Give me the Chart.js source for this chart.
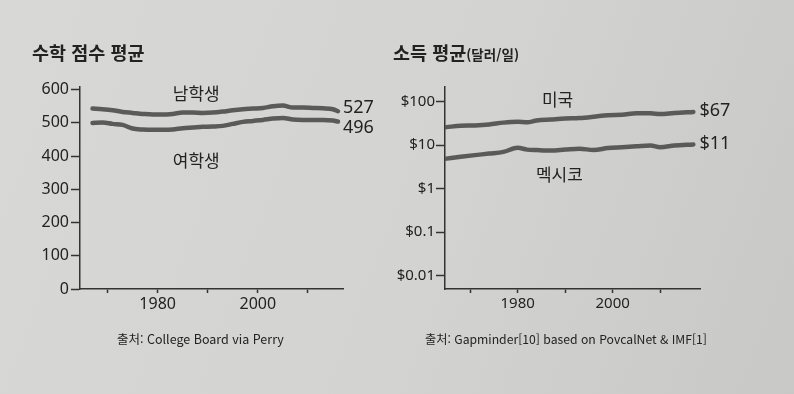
<!DOCTYPE html>
<html lang="ko">
<head>
<meta charset="utf-8">
<script src="https://cdn.jsdelivr.net/npm/chart.js@4.4.1/dist/chart.umd.min.js"></script>
<style>
  html, body { margin: 0; padding: 0; }
  body {
    width: 794px; height: 394px; overflow: hidden; position: relative;
    background: linear-gradient(110deg, #d8d8d6 0%, #d3d3d1 55%, #c8c8c6 100%);
    font-family: "Noto Sans CJK KR", "Noto Sans", sans-serif; color: #222;
  }
  .panel { position: absolute; top: 0; width: 397px; height: 394px; }
  .panel canvas { position: absolute; left: 0; top: 0; }
  .title { position: absolute; top: 41px; font-size: 18.5px; line-height: 22px; font-weight: bold; white-space: nowrap; }
  .title small { font-size: 13.5px; font-weight: bold; }
  .source { position: absolute; top: 331px; font-size: 12.5px; line-height: 16px; white-space: nowrap; }
</style>
</head>
<body>
<div class="panel" style="left:0">
  <canvas id="scoreChart" width="397" height="394"></canvas>
  <div class="title" style="left:32px">수학 점수 평균</div>
  <div class="source" style="left:117px">출처: College Board via Perry</div>
</div>
<div class="panel" style="left:397px">
  <canvas id="incomeChart" width="397" height="394"></canvas>
  <div class="title" style="left:-4px">소득 평균<small>(달러/일)</small></div>
  <div class="source" style="left:28px; font-size:12.2px">출처: Gapminder[10] based on PovcalNet &amp; IMF[1]</div>
</div>
<script>
// 수학 점수 (SAT math)
const scoreYears = [1967, 1969, 1971, 1973, 1975, 1977, 1979, 1981, 1983, 1985, 1987, 1989, 1991,
  1993, 1995, 1997, 1999, 2001, 2003, 2005, 2007, 2009, 2011, 2013, 2015, 2016];
const boysScore = [543, 541, 538, 533, 530, 527, 525, 525, 527, 531, 531, 530, 531,
  534, 538, 541, 543, 545, 550, 552, 546, 546, 545, 544, 541, 535];
const girlsScore = [500, 501, 497, 494, 483, 480, 479, 479, 480, 484, 486, 488, 489,
  491, 497, 503, 506, 509, 513, 515, 510, 509, 509, 509, 507, 504];
const scoreSeries = ["남학생", "여학생"];
const scoreEndLabels = ["527", "496"];
const scoreTicks = [0, 100, 200, 300, 400, 500, 600];

// 소득 평균 (달러/일)
const incomeYears = [1965, 1968, 1971, 1974, 1977, 1980, 1982, 1984, 1987, 1990, 1993, 1996,
  1999, 2002, 2005, 2008, 2010, 2013, 2017];
const usIncome = [26, 28, 28.5, 30, 33, 34.5, 33.5, 37, 39, 41, 42, 45,
  49, 50, 54, 54, 52, 55, 58];
const mexicoIncome = [4.9, 5.4, 5.9, 6.4, 7.0, 8.7, 7.9, 7.7, 7.5, 7.9, 8.3, 7.7,
  8.6, 9.0, 9.4, 9.8, 9.0, 9.8, 10.4];
const incomeSeries = ["미국", "멕시코"];
const incomeEndLabels = ["$67", "$11"];
const incomeTicks = [0.01, 0.1, 1, 10, 100];
const incomeTickLabels = ["$0.01", "$0.1", "$1", "$10", "$100"];

const yearTicks = [1970, 1980, 1990, 2000, 2010];
const labeledYears = [1980, 2000];

const NUM_FONT = '"Noto Sans", "Noto Sans CJK KR", sans-serif';
const KO_FONT = '"Noto Sans CJK KR", sans-serif';
const INK = "#222";
const LINE = "#5a5a5a";

function toPoints(xs, ys) {
  return xs.map((x, i) => ({ x: x, y: ys[i] }));
}

function lineDataset(points) {
  return {
    data: points,
    borderColor: LINE,
    borderWidth: 4.5,
    borderCapStyle: "round",
    borderJoinStyle: "round",
    pointRadius: 0,
    cubicInterpolationMode: "monotone",
    fill: false,
  };
}

// 시리즈 이름과 끝값 텍스트
function labelPlugin(names, namePos, endLabels, endAlign, endOffsets) {
  return {
    id: "seriesLabels",
    afterDatasetsDraw(chart) {
      const { ctx } = chart;
      const x = chart.scales.x;
      const y = chart.scales.y;
      ctx.save();
      ctx.fillStyle = INK;
      ctx.textBaseline = "middle";
      ctx.font = "17px " + KO_FONT;
      ctx.textAlign = "center";
      names.forEach((name, i) => {
        ctx.fillText(name, x.getPixelForValue(namePos[i][0]), y.getPixelForValue(namePos[i][1]));
      });
      ctx.font = "18px " + NUM_FONT;
      ctx.textAlign = endAlign;
      chart.data.datasets.forEach((ds, i) => {
        const last = ds.data[ds.data.length - 1];
        ctx.fillText(endLabels[i],
          x.getPixelForValue(last.x) + endOffsets[i][0],
          y.getPixelForValue(last.y) + endOffsets[i][1]);
      });
      ctx.restore();
    },
  };
}

function xAxis(min, max, fontSize) {
  return {
    type: "linear",
    min: min,
    max: max,
    afterBuildTicks: (s) => { s.ticks = yearTicks.map((v) => ({ value: v })); },
    afterFit: (s) => { s.height = 105; },
    ticks: {
      autoSkip: false,
      maxRotation: 0,
      padding: 2,
      color: INK,
      font: { family: NUM_FONT, size: fontSize },
      callback: (v) => (labeledYears.includes(v) ? String(v) : ""),
    },
    grid: { drawOnChartArea: false, drawTicks: true, tickLength: 4, tickColor: "#333", tickWidth: 1.5 },
    border: { color: "#333", width: 1.5 },
  };
}

const axisGrid = { drawOnChartArea: false, drawTicks: true, tickLength: 9, tickColor: "#333", tickWidth: 1.5 };

new Chart(document.getElementById("scoreChart"), {
  type: "line",
  data: {
    datasets: [
      lineDataset(toPoints(scoreYears, boysScore)),
      lineDataset(toPoints(scoreYears, girlsScore)),
    ],
  },
  options: {
    responsive: false,
    animation: false,
    layout: { padding: { top: 87, right: 54, left: 0, bottom: 0 } },
    plugins: { legend: { display: false }, tooltip: { enabled: false } },
    scales: {
      x: xAxis(1964.5, 2017, 16),
      y: {
        min: 0,
        max: 608,
        afterBuildTicks: (s) => { s.ticks = scoreTicks.map((v) => ({ value: v })); },
        afterFit: (s) => { s.width = 80; },
        ticks: { padding: 2, color: INK, font: { family: NUM_FONT, size: 16 } },
        grid: axisGrid,
        border: { color: "#333", width: 1.5 },
      },
    },
  },
  plugins: [labelPlugin(scoreSeries, [[1987.7, 588], [1987.7, 387]],
    scoreEndLabels, "left", [[5, -3], [5, 6]])],
});

new Chart(document.getElementById("incomeChart"), {
  type: "line",
  data: {
    datasets: [
      lineDataset(toPoints(incomeYears, usIncome)),
      lineDataset(toPoints(incomeYears, mexicoIncome)),
    ],
  },
  options: {
    responsive: false,
    animation: false,
    layout: { padding: { top: 87, right: 94, left: 0, bottom: 0 } },
    plugins: { legend: { display: false }, tooltip: { enabled: false } },
    scales: {
      x: xAxis(1964.7, 2018.4, 15),
      y: {
        type: "logarithmic",
        min: 0.0049,
        max: 218,
        afterBuildTicks: (s) => { s.ticks = incomeTicks.map((v) => ({ value: v })); },
        afterFit: (s) => { s.width = 48; },
        ticks: {
          padding: 1,
          color: INK,
          font: { family: NUM_FONT, size: 15 },
          callback: (v) => incomeTickLabels[incomeTicks.indexOf(v)],
        },
        grid: axisGrid,
        border: { color: "#333", width: 1.5 },
      },
    },
  },
  plugins: [labelPlugin(incomeSeries, [[1988.4, 115], [1988.8, 2.06]],
    incomeEndLabels, "right", [[37, -1], [37, -1]])],
});
</script>
</body>
</html>
